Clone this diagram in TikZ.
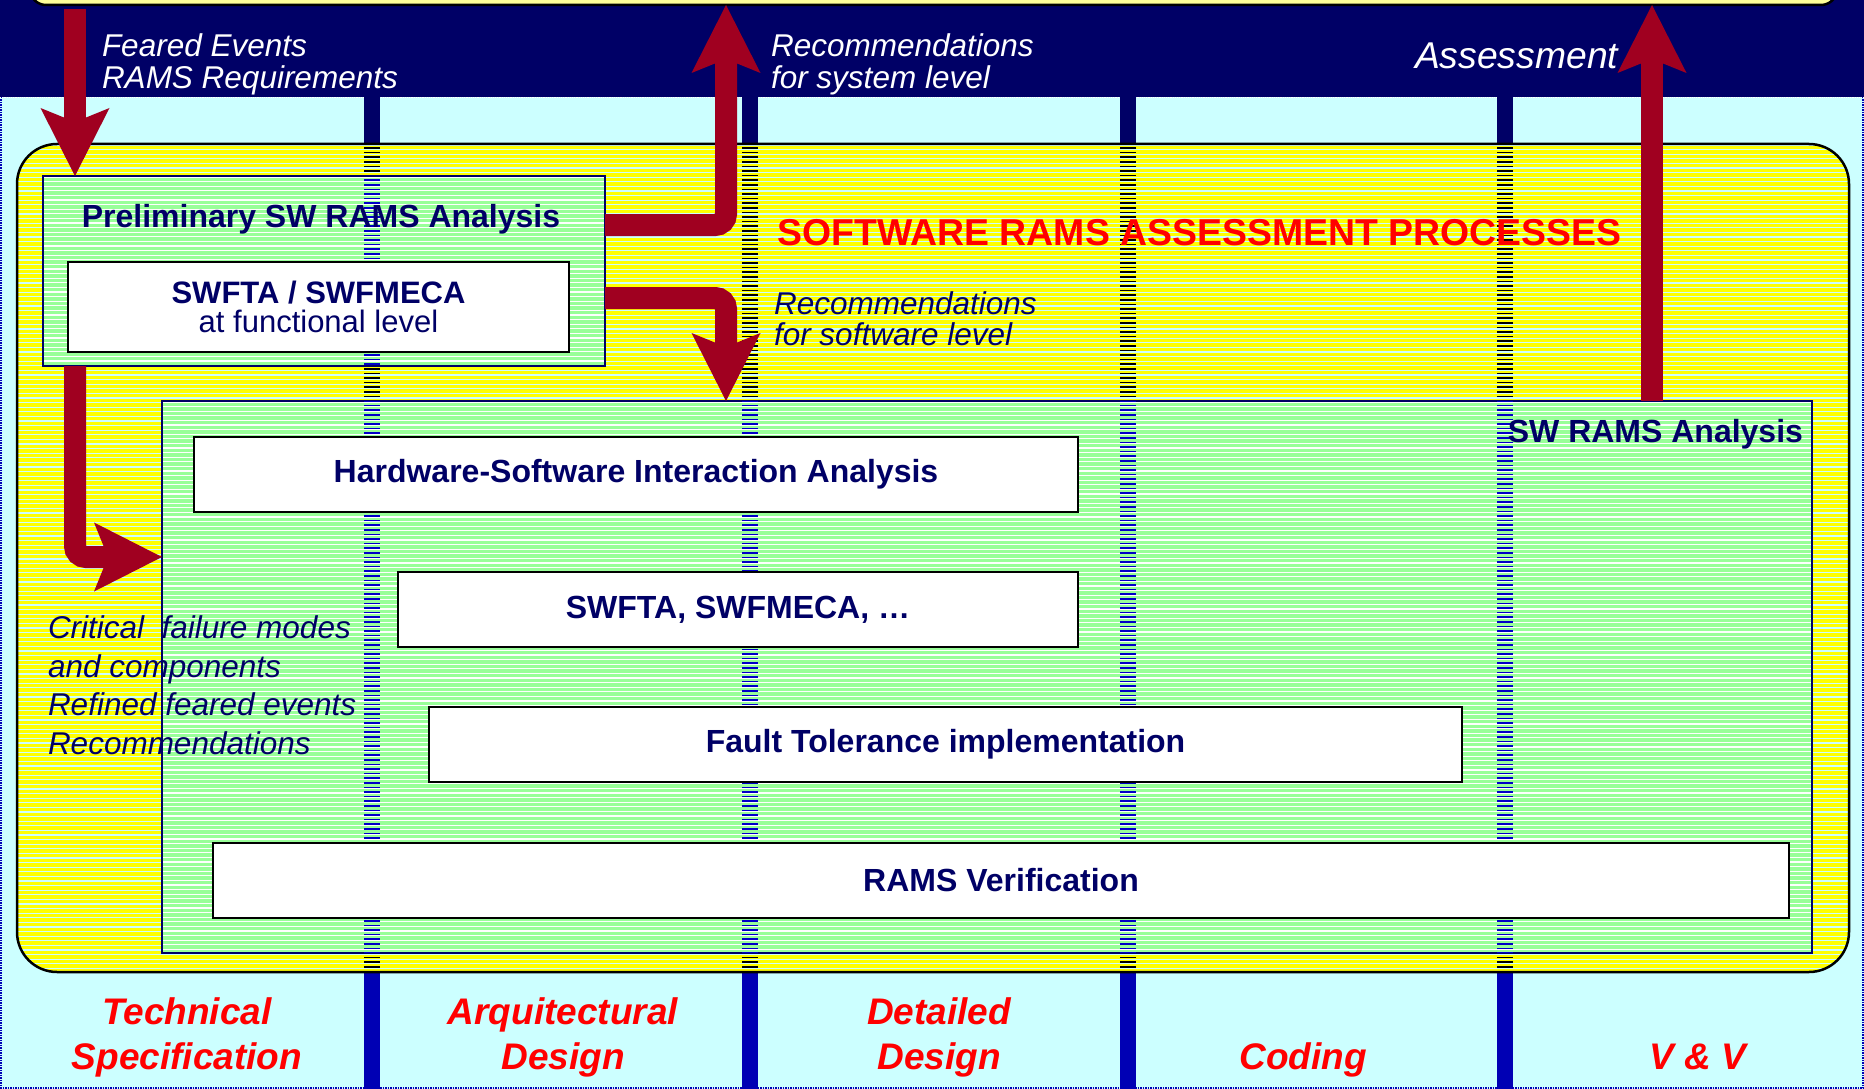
\documentclass[tikz,border=0pt]{standalone}
\usepackage{fontspec}
\setmainfont{Liberation Sans}
\usetikzlibrary{arrows.meta}

\definecolor{bandnavy}{RGB}{0,0,102}
\definecolor{cyanbg}{RGB}{204,255,255}
\definecolor{paleyellow}{RGB}{255,255,153}
\definecolor{procyellow}{RGB}{255,255,0}
\definecolor{panelgreen}{RGB}{153,255,153}
\definecolor{arrowred}{RGB}{160,0,32}
\definecolor{titlered}{RGB}{255,0,0}
\definecolor{sepblue}{RGB}{0,0,180}
\definecolor{dashblue}{RGB}{0,0,200}

\newcommand\rmsTopFont{\fontsize{31.5}{32}\selectfont\itshape}
\newcommand\rmsNoteFont{\fontsize{31.5}{38.5}\selectfont\itshape}
\newcommand\rmsTaskFont{\fontsize{32}{34}\selectfont\bfseries}
\newcommand\rmsTitleFont{\fontsize{37.4}{40}\selectfont\bfseries}
\newcommand\rmsPhaseFont{\fontsize{37}{45}\selectfont\bfseries\itshape}

\begin{document}
\begin{tikzpicture}[x=1pt,y=-1pt,
  every node/.style={inner sep=0pt, outer sep=0pt},
  stripes/.style={path picture={%
    \foreach \s in {1,5.6,...,1300}{%
      \draw[#1,line width=1.1pt]
        ([yshift=-\s pt]path picture bounding box.north west) --
        ([yshift=-\s pt]path picture bounding box.north east);}}},
  procbox/.style={draw=black, line width=2.5pt, fill=procyellow,
    stripes=cyanbg, rounded corners=40pt},
  panel/.style={draw=bandnavy, line width=2.4pt, fill=panelgreen, stripes=white},
  taskbox/.style={draw=black, line width=2.2pt, fill=white, text=bandnavy,
    font=\rmsTaskFont, align=center},
  toplabel/.style={anchor=base west, text=white, font=\rmsTopFont, align=left},
  phase/.style={anchor=base, text=titlered, font=\rmsPhaseFont, align=center},
  bigarrow/.style={draw=arrowred, line width=22pt, rounded corners=11pt,
    -{Stealth[length=68pt,width=69pt,inset=14pt,line width=0pt]}},
  sepdash/.style={line width=1.6pt}
]
\useasboundingbox (0,0) rectangle (1864,1089);

% page background: phase columns and the system-level band
\fill[cyanbg] (0,97) rectangle (1864,1089);
\draw[sepblue, line width=1.5pt, densely dotted] (1,97) -- (1,1088) -- (1863,1088) -- (1863,97);
\fill[bandnavy] (0,0) rectangle (1864,97);
\draw[white, densely dotted, line width=1.2pt] (0,97.5) -- (1864,97.5);

% system level box (only its lower edge is visible)
\node[draw=black, line width=2.5pt, fill=paleyellow, rounded corners=16pt,
  minimum width=1807pt, minimum height=60pt] (sysbox) at (933.5,-25) {};

% column separators
\foreach \sx in {372,750,1128,1505}{
  \fill[bandnavy] (\sx-8,97) rectangle (\sx+8,150);
  \fill[sepblue] (\sx-8,960) rectangle (\sx+8,1089);
}

% software RAMS assessment processes
\node[procbox, minimum width=1832pt, minimum height=828pt] (proc) at (933,558) {};
\foreach \sx in {372,750,1128,1505}{
  \foreach \dy in {148,152.6,...,970}{
    \draw[sepdash, black] (\sx-8,\dy) -- (\sx+8,\dy);
  }
}

% analysis panels
\node[panel, minimum width=562pt, minimum height=190pt] (prelim) at (324,271) {};
\node[panel, minimum width=1650pt, minimum height=552pt] (swrams) at (987,677) {};
\begin{scope}
  \clip (prelim.north west) rectangle (prelim.south east)
        (swrams.north west) rectangle (swrams.south east);
  \foreach \sx in {372,750,1128,1505}{
    \foreach \dy in {148,152.6,...,970}{
      \draw[sepdash, dashblue] (\sx-8,\dy) -- (\sx+8,\dy);
    }
  }
\end{scope}

% activities
\node[taskbox, minimum width=501pt, minimum height=90pt,
  font=\fontsize{31}{29.5}\selectfont] (funcfta) at (318.5,307)
  {{\bfseries SWFTA / SWFMECA}\\at functional level};
\node[taskbox, minimum width=884pt, minimum height=75pt] (hwsw) at (636,474.5)
  {Hardware-Software Interaction Analysis};
\node[taskbox, minimum width=680pt, minimum height=75pt] (swfta) at (738,609.5)
  {SWFTA, SWFMECA, …};
\node[taskbox, minimum width=1033pt, minimum height=75pt] (ftimpl) at (945.5,744.5)
  {Fault Tolerance implementation};
\node[taskbox, minimum width=1576pt, minimum height=75pt] (ramsver) at (1001,880.5)
  {RAMS Verification};

% titles
\node[anchor=base, text=titlered, font=\rmsTitleFont] (title) at (1199.5,245)
  {SOFTWARE RAMS ASSESSMENT PROCESSES};
\node[anchor=base, text=bandnavy, font=\rmsTaskFont] (prelimtitle) at (321,227)
  {Preliminary SW RAMS Analysis};
\node[anchor=base east, text=bandnavy, font=\rmsTaskFont] (swramstitle) at (1803,442)
  {SW RAMS Analysis};

% flow labels (multi-line nodes are placed by the baseline of their last line)
\node[toplabel] (feared) at (102,89) {Feared Events\\RAMS Requirements};
\node[toplabel] (recsys) at (771,89) {Recommendations\\for system level};
\node[toplabel, font=\fontsize{37.3}{37}\selectfont\itshape] (assess) at (1415,69) {Assessment};
\node[toplabel, text=bandnavy, font=\fontsize{31.5}{31}\selectfont\itshape] (recsw) at (774,345)
  {Recommendations\\for software level};
\node[anchor=base west, text=bandnavy, font=\rmsNoteFont, align=left] (critical) at (48,754)
  {Critical~~failure modes\\and components\\Refined feared events\\Recommendations};

% development phases
\node[phase] (techspec) at (187,1069) {Technical\\Specification};
\node[phase] (archdes) at (563,1069) {Arquitectural\\Design};
\node[phase] (detdes) at (939,1069) {Detailed\\Design};
\node[phase] (coding) at (1303,1069) {Coding};
\node[phase] (vandv) at (1698,1069) {V \& V};

% information flows
\coordinate (xa) at (75,0);
\coordinate (xb) at (726,0);
\coordinate (xc) at (1652,0);
\coordinate (ya) at (0,225);
\coordinate (yb) at (0,298);
\coordinate (yc) at (0,557);
\draw[bigarrow, shorten <=4pt] (sysbox.south -| xa) -- (prelim.north -| xa);
\draw[bigarrow] (prelim.east |- ya) -- (xb |- ya) -- (sysbox.south -| xb);
\draw[bigarrow] (prelim.east |- yb) -- (xb |- yb) -- (swrams.north -| xb);
\draw[bigarrow] (prelim.south -| xa) -- (xa |- yc) -- (swrams.west |- yc);
\draw[bigarrow] (swrams.north -| xc) -- (sysbox.south -| xc);
\end{tikzpicture}
\end{document}
